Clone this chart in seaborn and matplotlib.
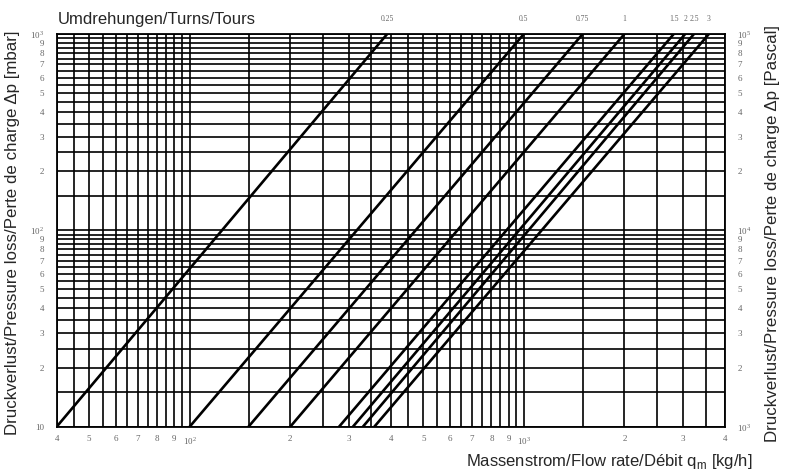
"""
plot.py
Pressure loss vs. mass flow rate for several valve settings (turns), log-log chart.
"""

import numpy as np
import pandas as pd
import matplotlib

matplotlib.use("Agg")
import matplotlib.pyplot as plt
import matplotlib.ticker as mticker
import matplotlib.transforms as mtrans
import seaborn as sns

# valve setting (turns) and flow rate [kg/h] where each line enters at 10 mbar / leaves at 1000 mbar
TURNS = ["0.25", "0.5", "0.75", "1", "1.5", "2", "2.5", "3"]
FLOW_AT_10 = [40, 100, 150, 200, 280, 308, 330, 357]
FLOW_AT_1000 = [390, 1000, 1500, 2000, 2810, 3040, 3230, 3580]
DP_ENDS = [10, 1000]

X_TICKS = [40, 50, 60, 70, 80, 90, 100, 200, 300, 400, 500, 600, 700, 800, 900,
           1000, 2000, 3000, 4000]
X_LABELS = ["4", "5", "6", "7", "8", "9", r"$10^2$", "2", "3", "4", "5", "6", "7",
            "8", "9", r"$10^3$", "2", "3", "4"]
Y_TICKS = [10, 20, 30, 40, 50, 60, 70, 80, 90, 100, 200, 300, 400, 500, 600, 700,
           800, 900, 1000]
Y_LABELS = ["10", "2", "3", "4", "5", "6", "7", "8", "9", r"$10^2$", "2", "3", "4",
            "5", "6", "7", "8", "9", r"$10^3$"]
Y2_TICKS = [t * 100 for t in Y_TICKS]
Y2_LABELS = [r"$10^3$", "2", "3", "4", "5", "6", "7", "8", "9", r"$10^4$", "2", "3",
             "4", "5", "6", "7", "8", "9", r"$10^5$"]

rows = []
for t, q0, q1 in zip(TURNS, FLOW_AT_10, FLOW_AT_1000):
    rows.append({"turns": t, "flow": q0, "dp": DP_ENDS[0]})
    rows.append({"turns": t, "flow": q1, "dp": DP_ENDS[1]})
df = pd.DataFrame(rows)

sns.set_style("white")
plt.rcParams["font.family"] = ["Liberation Sans", "DejaVu Sans"]
plt.rcParams["mathtext.fontset"] = "custom"
plt.rcParams["mathtext.rm"] = "Liberation Serif"
plt.rcParams["mathtext.sf"] = "Liberation Sans"

TICK_FONT = dict(family=["Liberation Serif", "DejaVu Serif"], size=6.5, color="#666666")


def grid_positions(lo, hi):
    """Grid at every half unit of each decade between lo and hi."""
    pos = []
    for dec in [10, 100, 1000, 10000]:
        for k in np.arange(1.0, 10.0, 0.5):
            v = k * dec
            if lo <= v <= hi:
                pos.append(v)
    return pos


fig = plt.figure(figsize=(7.85, 4.76), dpi=100)
ax = fig.add_axes([56.7 / 785, 1 - 426.7 / 476, (725 - 56.7) / 785, (426.7 - 34) / 476])

sns.lineplot(data=df, x="flow", y="dp", units="turns", estimator=None,
             color="black", lw=1.9, legend=False, ax=ax)

ax.set_xscale("log")
ax.set_yscale("log")
ax.set_xlim(40, 4000)
ax.set_ylim(10, 1000)

for v in grid_positions(40, 4000):
    ax.axvline(v, color="black", lw=1.2, zorder=1)
for v in grid_positions(10, 1000):
    ax.axhline(v, color="black", lw=1.2, zorder=1)

ax.xaxis.set_major_locator(mticker.FixedLocator(X_TICKS))
ax.xaxis.set_minor_locator(mticker.NullLocator())
ax.set_xticklabels(X_LABELS, **TICK_FONT)
ax.yaxis.set_major_locator(mticker.FixedLocator(Y_TICKS))
ax.yaxis.set_minor_locator(mticker.NullLocator())
ax.set_yticklabels(Y_LABELS, **TICK_FONT)
ax.tick_params(length=0, pad=6)
ax.tick_params(axis="y", pad=9)
ax.set_xlabel("")
ax.set_ylabel("")
for s in ax.spines.values():
    s.set_color("black")
    s.set_linewidth(1.3)

ax2 = ax.twinx()
ax2.set_yscale("log")
ax2.set_ylim(1000, 100000)
ax2.yaxis.set_major_locator(mticker.FixedLocator(Y2_TICKS))
ax2.yaxis.set_minor_locator(mticker.NullLocator())
ax2.set_yticklabels(Y2_LABELS, **TICK_FONT)
ax2.tick_params(length=0, pad=9)
for s in ax2.spines.values():
    s.set_visible(False)

# setting labels above where each line meets the top edge
trans = mtrans.blended_transform_factory(ax.transData, ax.transAxes)
for t, q1 in zip(TURNS, FLOW_AT_1000):
    ax.text(q1, 1.028, t, transform=trans, ha="center", va="bottom",
            family=["Liberation Serif", "DejaVu Serif"], size=5.5, color="#666666")

fig.text(58 / 785, 1 - 24 / 476, "Umdrehungen/Turns/Tours", ha="left", va="baseline",
         fontsize=12)
fig.text(752 / 785, 1 - 466 / 476, r"Massenstrom/Flow rate/Débit q$_{\mathsf{m}}$ [kg/h]",
         ha="right", va="baseline", fontsize=12)
fig.text(13 / 785, 1 - 233 / 476, "Druckverlust/Pressure loss/Perte de charge Δp [mbar]",
         rotation=90, ha="center", va="center", fontsize=12.2)
fig.text(772 / 785, 1 - 233 / 476, "Druckverlust/Pressure loss/Perte de charge Δp [Pascal]",
         rotation=90, ha="center", va="center", fontsize=12.2)

fig.savefig("out.png", dpi=100)
plt.close(fig)
